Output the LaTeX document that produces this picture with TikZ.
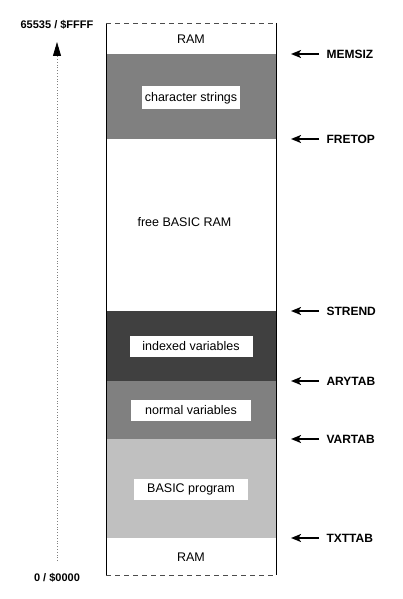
\documentclass[tikz,border=0pt]{standalone}
\usepackage{fontspec}
\setmainfont{Liberation Sans}
\usetikzlibrary{arrows.meta, positioning}
\definecolor{strgray}{RGB}{128, 128, 128}
\definecolor{arygray}{RGB}{64, 64, 64}
\definecolor{vargray}{RGB}{128, 128, 128}
\definecolor{prggray}{RGB}{192, 192, 192}

\begin{document}
\begin{tikzpicture}[x=1pt, y=-1pt,
  tag/.style={fill=white, font=\fontsize{12.5}{14}\selectfont, minimum height=21pt, inner sep=0pt},
  plain/.style={font=\fontsize{12.5}{14}\selectfont},
  ptr/.style={font=\fontsize{12}{14}\selectfont\bfseries, anchor=west},
  ptrarrow/.style={-{Stealth[length=10pt, width=8pt, inset=2.5pt]}, line width=1.8pt},
  addr/.style={font=\fontsize{11}{13}\selectfont\bfseries},
  edge/.style={line width=0.8pt},
  open/.style={dash pattern=on 5pt off 4pt, line width=0.8pt, black!70}
]
  \useasboundingbox (0,0) rectangle (402,599);

  % Memory regions
  \fill[strgray] (106,54) rectangle (276,139);
  \fill[arygray] (106,311) rectangle (276,381);
  \fill[vargray] (106,381) rectangle (276,439);
  \fill[prggray] (106,439) rectangle (276,538);

  % Box outline
  \draw[edge] (106,23) -- (106,575);
  \draw[edge] (276,23) -- (276,575);
  \draw[open] (106,23) -- (276,23);
  \draw[open] (106,575) -- (276,575);

  % Region labels
  \node[plain] (ramtop) at (191,39) {RAM};
  \node[tag, minimum width=98pt, minimum height=23pt] (strings) at (191,98) {character strings};
  \node[plain, anchor=west] (free) at (134,222) {free BASIC RAM};
  \node[tag, minimum width=123pt] (indexed) at (191,346.5) {indexed variables};
  \node[tag, minimum width=120pt] (normal) at (191,410.5) {normal variables};
  \node[tag, minimum width=114pt] (program) at (191,489) {BASIC program};
  \node[plain] (rambot) at (191,557) {RAM};

  % Pointers
  \node[ptr] (memsiz) at (323,54) {MEMSIZ};
  \node[ptr] (fretop) at (323,139) {FRETOP};
  \node[ptr] (strend) at (323,311) {STREND};
  \node[ptr] (arytab) at (323,381) {ARYTAB};
  \node[ptr] (vartab) at (323,439) {VARTAB};
  \node[ptr] (txttab) at (323,538) {TXTTAB};
  \coordinate (pmemsiz) at (291,54);
  \coordinate (pfretop) at (291,139);
  \coordinate (pstrend) at (291,311);
  \coordinate (parytab) at (291,381);
  \coordinate (pvartab) at (291,439);
  \coordinate (ptxttab) at (291,538);
  \draw[ptrarrow] ([xshift=-4pt]memsiz.west) -- (pmemsiz);
  \draw[ptrarrow] ([xshift=-4pt]fretop.west) -- (pfretop);
  \draw[ptrarrow] ([xshift=-4pt]strend.west) -- (pstrend);
  \draw[ptrarrow] ([xshift=-4pt]arytab.west) -- (parytab);
  \draw[ptrarrow] ([xshift=-4pt]vartab.west) -- (pvartab);
  \draw[ptrarrow] ([xshift=-4pt]txttab.west) -- (ptxttab);

  % Address axis
  \node[addr] (hi) at (57,25) {65535 / \$FFFF};
  \node[addr] (lo) at (57,578) {0 / \$0000};
  \coordinate (axbot) at (57,561);
  \coordinate (axtop) at (57,42);
  \draw[dotted, gray, line width=0.8pt, -{Triangle[length=14pt, width=8pt, black]}] (axbot) -- (axtop);
\end{tikzpicture}
\end{document}
